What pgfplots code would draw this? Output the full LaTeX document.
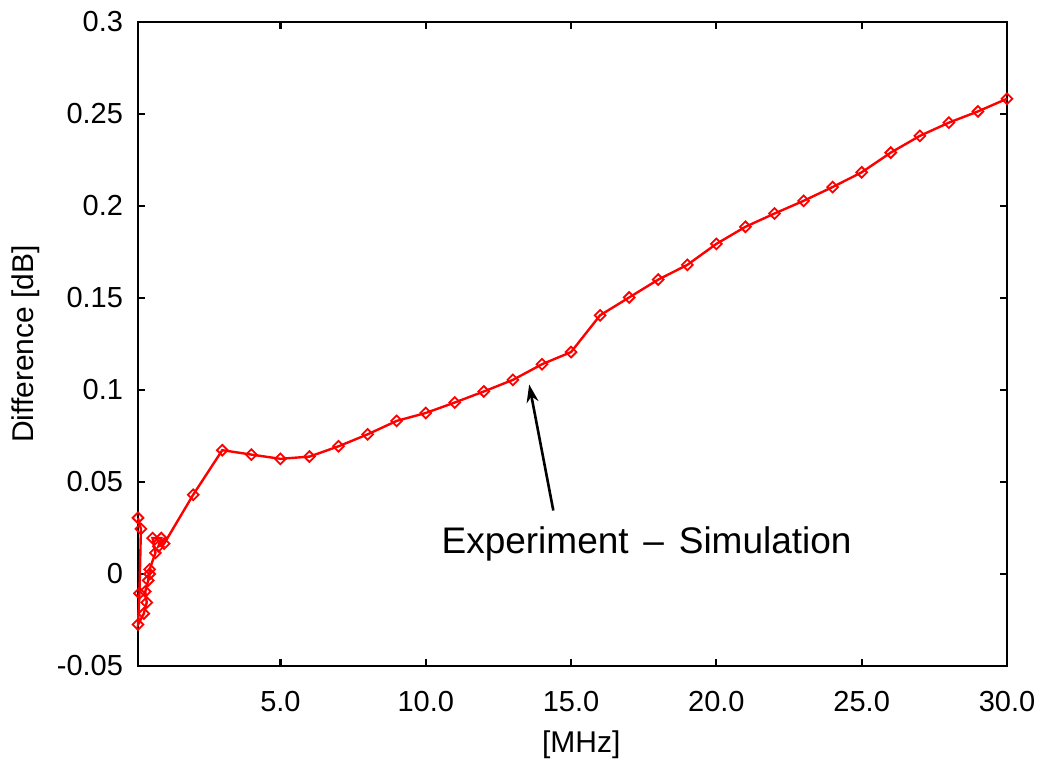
\documentclass[border=0pt]{standalone}
\usepackage{fontspec}
\setmainfont{Liberation Sans}
\usepackage{pgfplots}
\pgfplotsset{compat=1.18}
\usetikzlibrary{arrows.meta}

\definecolor{curve}{HTML}{FF0000}

\begin{document}
\begin{tikzpicture}
\begin{axis}[
  scale only axis,
  width=434.5bp, height=322bp,
  xmin=0.1, xmax=30,
  ymin=-0.05, ymax=0.3,
  axis line style={line width=1.3bp},
  tick style={line width=1.1bp, black},
  tick align=inside,
  major tick length=3.5bp,
  xtick={5,10,15,20,25,30},
  xticklabels={5.0,10.0,15.0,20.0,25.0,30.0},
  ytick={-0.05,0,0.05,0.1,0.15,0.2,0.25,0.3},
  yticklabels={-0.05,0,0.05,0.1,0.15,0.2,0.25,0.3},
  tick label style={font=\fontsize{14.5bp}{16bp}\selectfont},
  xticklabel style={yshift=-9bp},
  yticklabel style={xshift=-4bp},
  label style={font=\fontsize{15bp}{17bp}\selectfont},
  xlabel={[MHz]},
  ylabel={Difference [dB]},
  xlabel style={at={(axis description cs:0.51,-0.1227)}, anchor=center},
  ylabel style={at={(axis description cs:-0.129,0.5)}, anchor=center, rotate=0},
  clip=false,
]
\addplot[color=curve, line width=1.2bp, mark=square, mark size=1.9bp,
  mark options={line width=0.9bp, rotate=45, fill=none}]
  coordinates {
  (0.1,0.0305) (0.2,0.0245) (0.15,-0.0105) (0.1,-0.0275) (0.3,-0.0215)
  (0.4,-0.0155) (0.35,-0.0095) (0.45,-0.0035) (0.5,0.0) (0.5,0.0025)
  (0.7,0.0115) (0.6,0.0195) (0.9,0.0195) (0.8,0.0150) (1.0,0.0165)
  (2,0.0431) (3,0.0673) (4,0.0649) (5,0.0626) (6,0.0638)
  (7,0.0694) (8,0.0759) (9,0.0832) (10,0.0875) (11,0.0932)
  (12,0.0992) (13,0.1055) (14,0.1140) (15,0.1206) (16,0.1406)
  (17,0.1503) (18,0.1600) (19,0.1680) (20,0.1794) (21,0.1887)
  (22,0.1959) (23,0.2028) (24,0.2103) (25,0.2183) (26,0.2290)
  (27,0.2381) (28,0.2453) (29,0.2514) (30,0.2583)
  };
\draw[line width=1.3bp, -{Stealth[length=9bp, width=6bp]}]
  (axis cs:14.39,0.0345) -- (axis cs:13.56,0.1030);
\node[font=\fontsize{18.5bp}{20bp}\selectfont] at (axis cs:17.6,0.0166)
  {Experiment\hspace{0.4em}--\hspace{0.4em}Simulation};
\coordinate (bl) at (rel axis cs:0,0);
\coordinate (tr) at (rel axis cs:1,1);
\end{axis}
\pgfresetboundingbox
\useasboundingbox ([shift={(-69bp,-51.5bp)}]bl) rectangle ([shift={(17bp,11bp)}]tr);
\end{tikzpicture}
\end{document}
